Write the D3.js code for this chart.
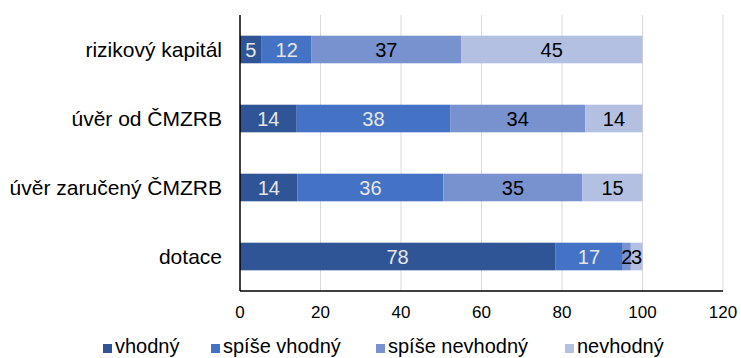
<!DOCTYPE html>
<html>
<head>
<meta charset="utf-8">
<script src="https://cdn.jsdelivr.net/npm/d3@7"></script>
<style>
  body { margin: 0; background: #fff; overflow: hidden; }
  text { font-family: "Liberation Sans", Arial, sans-serif; }
</style>
</head>
<body>
<div id="chart"></div>
<script>
const categories = ["rizikový kapitál", "úvěr od ČMZRB", "úvěr zaručený ČMZRB", "dotace"];
const seriesNames = ["vhodný", "spíše vhodný", "spíše nevhodný", "nevhodný"];
// shares in %, labels show rounded values
const vhodny = [5.4, 14.1, 14.3, 78.3];
const spiseVhodny = [12.4, 38.1, 36.2, 16.8];
const spiseNevhodny = [37.1, 33.6, 34.6, 2.0];
const nevhodny = [45.1, 14.2, 14.9, 2.9];
const xTicks = [0, 20, 40, 60, 80, 100, 120];

const colors = ["#2f5597", "#4472c4", "#7891cf", "#b4c0e2"];
const labelColors = ["#e6e6e6", "#e6e6e6", "#000", "#000"];

const width = 741, height = 358;
const plotLeft = 240, plotRight = 723, plotTop = 15, plotBottom = 291;

const svg = d3.select("#chart").append("svg")
    .attr("width", width)
    .attr("height", height);

const rows = categories.map((c, i) => ({
    cat: c, "vhodný": vhodny[i], "spíše vhodný": spiseVhodny[i],
    "spíše nevhodný": spiseNevhodny[i], "nevhodný": nevhodny[i]
}));
const stack = d3.stack().keys(seriesNames)(rows);

const x = d3.scaleLinear().domain([0, 120]).range([plotLeft, plotRight]);
const y = d3.scaleBand().domain(categories).range([plotTop, plotBottom]).paddingInner(0.6).paddingOuter(0.3);

// grid
svg.append("g").selectAll("line")
    .data(xTicks.slice(1))
    .join("line")
    .attr("x1", d => x(d)).attr("x2", d => x(d))
    .attr("y1", plotTop).attr("y2", plotBottom)
    .attr("stroke", "#d9d9d9").attr("stroke-width", 1);

// bars
const layer = svg.append("g").selectAll("g")
    .data(stack)
    .join("g")
    .attr("fill", (d, i) => colors[i]);

layer.selectAll("rect")
    .data(d => d)
    .join("rect")
    .attr("x", d => x(d[0]))
    .attr("width", d => x(d[1]) - x(d[0]))
    .attr("y", d => y(d.data.cat))
    .attr("height", y.bandwidth());

// value labels
stack.forEach((s, i) => {
    svg.append("g").selectAll("text")
        .data(s)
        .join("text")
        .attr("x", d => (x(d[0]) + x(d[1])) / 2)
        .attr("y", d => y(d.data.cat) + y.bandwidth() / 2)
        .attr("dy", "0.36em")
        .attr("text-anchor", "middle")
        .attr("font-size", 20)
        .attr("fill", labelColors[i])
        .text(d => d3.format(".0f")(d[1] - d[0]));
});

// axes
svg.append("line")
    .attr("x1", plotLeft).attr("x2", plotLeft).attr("y1", plotTop).attr("y2", plotBottom)
    .attr("stroke", "#000").attr("stroke-width", 1.5);
svg.append("line")
    .attr("x1", plotLeft).attr("x2", plotRight).attr("y1", plotBottom).attr("y2", plotBottom)
    .attr("stroke", "#000").attr("stroke-width", 1.5);

svg.append("g").selectAll("text")
    .data(categories)
    .join("text")
    .attr("x", plotLeft - 18)
    .attr("y", d => y(d) + y.bandwidth() / 2)
    .attr("dy", "0.36em")
    .attr("text-anchor", "end")
    .attr("font-size", 21)
    .attr("fill", "#000")
    .text(d => d);

svg.append("g").selectAll("text")
    .data(xTicks)
    .join("text")
    .attr("x", d => x(d))
    .attr("y", 318)
    .attr("text-anchor", "middle")
    .attr("font-size", 17)
    .attr("fill", "#000")
    .text(d => d);

// legend
const legendX = [115, 223, 388, 577];
const legend = svg.append("g").selectAll("g")
    .data(seriesNames)
    .join("g")
    .attr("transform", (d, i) => `translate(${legendX[i]},353)`);
legend.append("rect")
    .attr("x", -12).attr("y", -9).attr("width", 9).attr("height", 9)
    .attr("fill", (d, i) => colors[i]);
legend.append("text")
    .attr("x", 0)
    .attr("font-size", 20)
    .attr("fill", "#000")
    .text(d => d);
</script>
</body>
</html>
